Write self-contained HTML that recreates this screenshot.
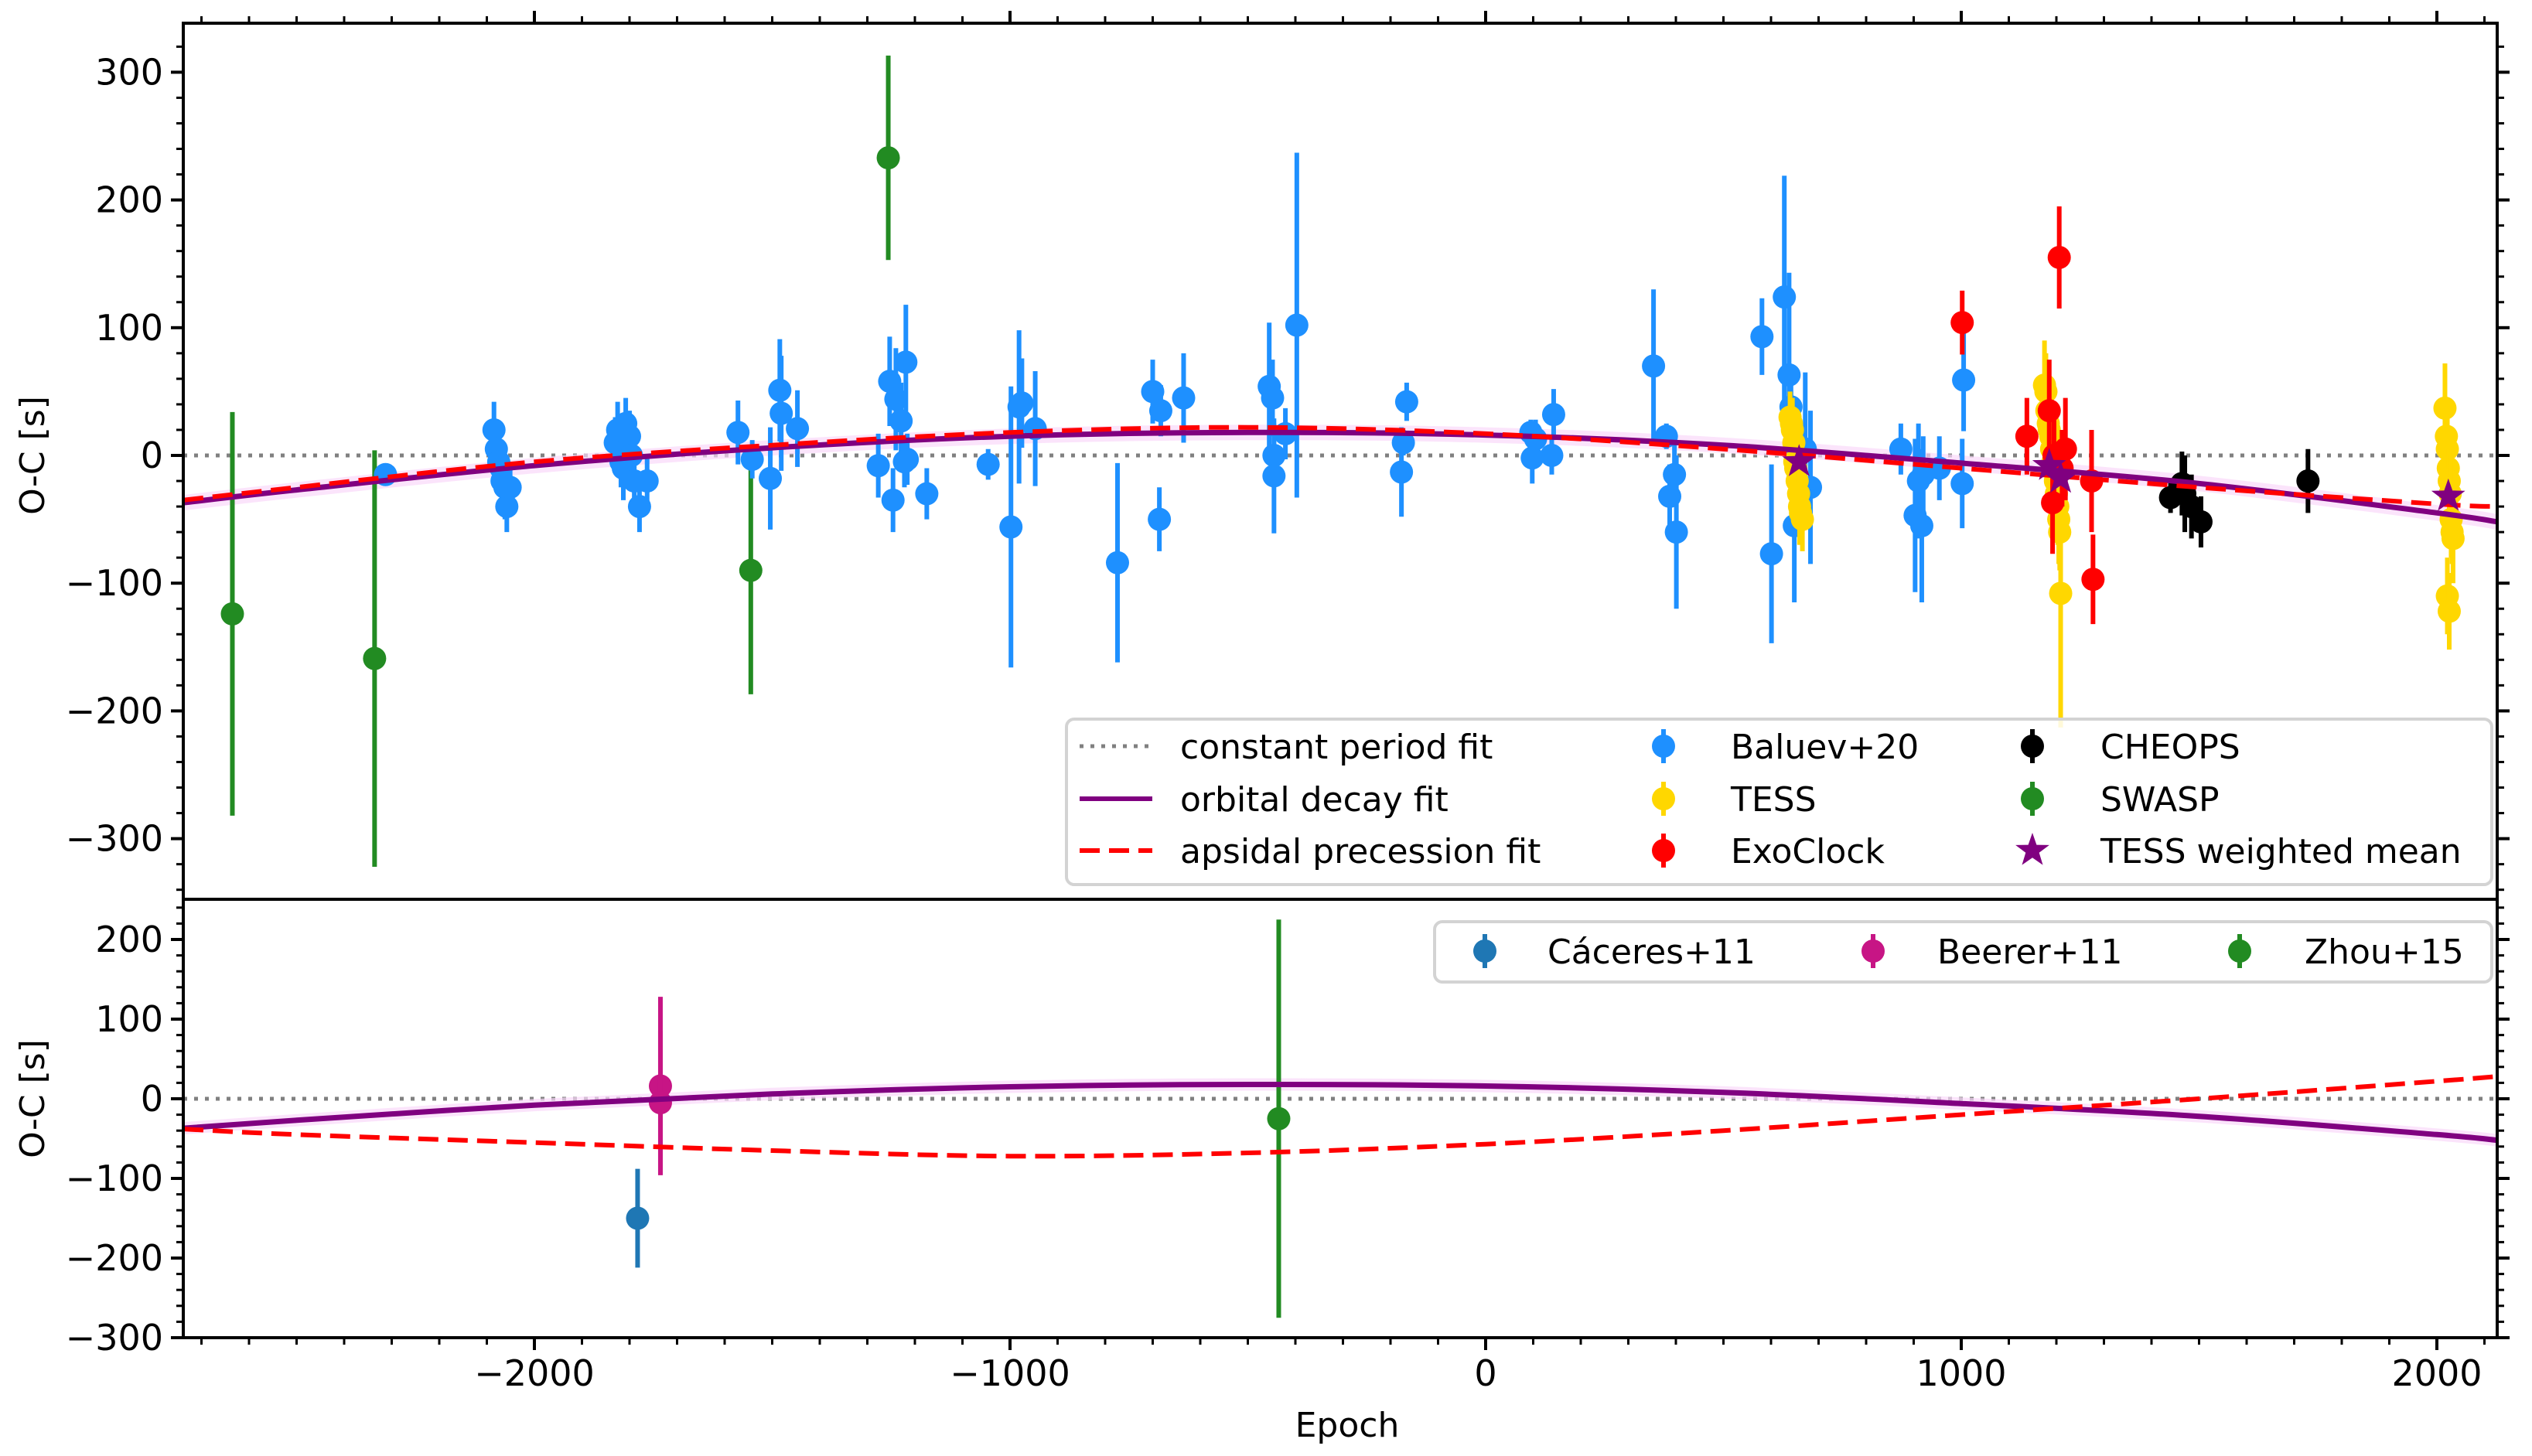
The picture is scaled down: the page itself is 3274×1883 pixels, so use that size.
<!DOCTYPE html>
<html><head><meta charset="utf-8"><style>
body{margin:0;background:#fff}
svg text{font-family:"DejaVu Sans","Liberation Sans",sans-serif;fill:#000}
</style></head><body>
<svg id="chart" width="3274" height="1878" viewBox="0 0 3274 1878" xmlns="http://www.w3.org/2000/svg">
<defs>
<clipPath id="clipTop"><rect x="237" y="30" width="2992" height="1133"/></clipPath>
<clipPath id="clipBot"><rect x="237" y="1163" width="2992" height="567"/></clipPath>
</defs>
<g id="topPanel"></g>
<g id="botPanel"></g>
<g id="axesGroup"></g>
<g id="legendGroup"></g>
</svg>
<script>
// ---------- data ----------
const baluevEpoch=[-2313,-2085,-2080,-2075,-2070,-2068,-2062,-2058,-2051,-1830,-1825,-1818,-1813,-1808,-1800,-1796,-1790,-1779,-1763,-1572,-1542,-1504,-1484,-1481,-1447,-1277,-1253,-1240,-1229,-1246,-1219,-1216,-1222,-1175,-1046,-998,-981,-975,-947,-774,-700,-683,-686,-635,-455,-448,-445,-445,-421,-397,-177,-166,-173,95,105,98,143,139,353,380,387,397,401,581,601,628,638,642,649,655,672,683,873,903,910,917,920,954,1005,1002];
const baluevOC=[-15,20,5,-5,-10,-20,-25,-40,-25,10,20,-5,-10,25,15,0,-20,-40,-20,18,-3,-18,51,33,21,-8,58,44,27,-35,73,-3,-5,-30,-7,-56,38,41,21,-84,50,35,-50,45,54,45,0,-16,17,102,-13,42,10,18,13,-2,32,0,70,15,-32,-15,-60,93,-77,124,63,38,-55,10,5,-25,5,-47,-20,-55,-15,-10,59,-22];
const baluevErr=[5,22,20,25,20,25,25,20,20,20,22,20,25,20,20,25,20,20,20,25,15,40,40,45,30,25,35,40,30,25,45,20,20,20,12,110,60,35,45,78,25,20,25,35,50,30,25,45,20,135,35,15,10,10,15,20,20,15,60,10,25,25,60,30,70,95,80,25,60,25,60,60,20,60,45,60,30,25,40,35];
const tessEpoch=[640,643,645,648,650,652,655,658,660,662,666,1175,1178,1180,1183,1185,1188,1190,1193,1195,1198,1200,1203,1205,1207,1209,2017,2020,2022,2024,2026,2028,2030,2032,2034,2022,2026];
const tessOC=[30,25,20,10,-5,-10,-20,-30,-40,-45,-50,55,50,35,25,20,15,5,-5,-10,-20,-30,-40,-50,-60,-108,37,15,5,-10,-20,-30,-50,-60,-65,-110,-122];
const tessErr=[20,20,25,20,25,20,25,20,30,25,25,35,30,25,25,30,25,25,30,25,30,30,30,35,30,105,35,25,25,30,25,30,30,25,35,30,30];
const exoEpoch=[1002,1138,1185,1192,1206,1219,1274,1277,1195,1212];
const exoOC=[104,15,35,-37,155,5,-20,-97,0,-10];
const exoErr=[25,30,40,40,40,40,40,35,30,30];
const cheopsEpoch=[1440,1464,1470,1484,1504,1729];
const cheopsOC=[-33,-22,-30,-40,-52,-20];
const cheopsErr=[12,25,30,25,20,25];
const swaspEpoch=[-2635,-2336,-1545,-1256];
const swaspOC=[-124,-159,-90,233];
const swaspErr=[158,163,97,80];
const starEpoch=[659,1185,1209,2024];
const starOC=[-5,-8,-18,-32];
const caceresEpoch=[-1783];const caceresOC=[-150];const caceresErr=[62];
const beererEpoch=[-1735,-1735];const beererOC=[16,-5];const beererErr=[112,90];
const zhouEpoch=[-435];const zhouOC=[-25];const zhouErr=[250];
// model curves sampled from the figure
const curveEpoch=[-2738,-2500,-2000,-1500,-1000,-500,0,500,1000,1500,2000,2127];
const decayOC=[-37,-27,-8,6,15,18,16,8,-6,-22,-45,-52];
const apsTopOC=[-35,-25,-5,8,18,22,17,5,-10,-25,-38,-40];
const apsBotOC=[-38,-45,-55,-65,-72,-68,-57,-40,-20,0,22,28];
const xTicks=[-2000,-1000,0,1000,2000];
const yTopTicks=[-300,-200,-100,0,100,200,300];
const yBotTicks=[-300,-200,-100,0,100,200];

// ---------- scales ----------
const L=237,R=3229,T1=30,B1=1163,B2=1730;
const X=e=>1921+0.615*e;
const YT=v=>589-1.652*v;
const YB=v=>1421-1.03*v;
const NS='http://www.w3.org/2000/svg';
function mk(parent,tag,attrs){const el=document.createElementNS(NS,tag);for(const k in attrs)el.setAttribute(k,attrs[k]);parent.appendChild(el);return el;}

const topG=document.getElementById('topPanel'),botG=document.getElementById('botPanel'),axesG=document.getElementById('axesGroup'),legG=document.getElementById('legendGroup');
const gT=mk(topG,'g',{'clip-path':'url(#clipTop)'});
const gB=mk(botG,'g',{'clip-path':'url(#clipBot)'});

function curve(g,ys,Y,attrs,name){
  const P=curveEpoch.map((e,i)=>[X(e),Y(ys[i])]);
  let d='M'+P[0][0].toFixed(1)+','+P[0][1].toFixed(1);
  for(let i=0;i<P.length-1;i++){
    const p0=P[Math.max(0,i-1)],p1=P[i],p2=P[i+1],p3=P[Math.min(P.length-1,i+2)];
    const c1=[p1[0]+(p2[0]-p0[0])/6,p1[1]+(p2[1]-p0[1])/6];
    const c2=[p2[0]-(p3[0]-p1[0])/6,p2[1]-(p3[1]-p1[1])/6];
    d+=' C'+c1[0].toFixed(1)+','+c1[1].toFixed(1)+' '+c2[0].toFixed(1)+','+c2[1].toFixed(1)+' '+p2[0].toFixed(1)+','+p2[1].toFixed(1);
  }
  const p=mk(g,'path',Object.assign({d:d,fill:'none'},attrs));
  
  
}
function zeroLine(g,Y){
  const l=mk(g,'line',{x1:L,x2:R,y1:Y(0),y2:Y(0),stroke:'#808080','stroke-width':5,'stroke-dasharray':'5 9'});
  
  
}
function errs(g,E,V,ER,Y,color,name,r){
  E.forEach((e,i)=>{
    const grp=mk(g,'g',{});
    
    
    mk(grp,'line',{x1:X(e),x2:X(e),y1:Y(V[i]+ER[i]),y2:Y(V[i]-ER[i]),stroke:color,'stroke-width':6});
    mk(grp,'circle',{cx:X(e),cy:Y(V[i]),r:r||15,fill:color});
  });
}
function starPath(cx,cy,ro){const ri=ro*0.4;let d='';for(let k=0;k<10;k++){const rr=k%2?ri:ro;const a=-Math.PI/2+k*Math.PI/5;d+=(k?'L':'M')+(cx+rr*Math.cos(a)).toFixed(1)+','+(cy+rr*Math.sin(a)).toFixed(1);}return d+'Z';}

// top panel
zeroLine(gT,YT);
curve(gT,decayOC,YT,{stroke:'#f9d8f9','stroke-width':20,'stroke-opacity':0.7},'decay-uncertainty-band');
errs(gT,swaspEpoch,swaspOC,swaspErr,YT,'#228b22','swasp');
errs(gT,baluevEpoch,baluevOC,baluevErr,YT,'#1e90ff','baluev');
errs(gT,tessEpoch,tessOC,tessErr,YT,'#ffd700','tess');
errs(gT,exoEpoch,exoOC,exoErr,YT,'#ff0000','exoclock');
errs(gT,cheopsEpoch,cheopsOC,cheopsErr,YT,'#000000','cheops');
curve(gT,decayOC,YT,{stroke:'#800080','stroke-width':7},'orbital-decay-fit');
curve(gT,apsTopOC,YT,{stroke:'#ff0000','stroke-width':6,'stroke-dasharray':'26 12'},'apsidal-precession-fit');
starEpoch.forEach((e,i)=>{
  const s=mk(gT,'path',{d:starPath(X(e),YT(starOC[i]),23),fill:'#800080'});
  
  
});

// bottom panel
zeroLine(gB,YB);
curve(gB,decayOC,YB,{stroke:'#f9d8f9','stroke-width':16,'stroke-opacity':0.7},'decay-uncertainty-band');
errs(gB,caceresEpoch,caceresOC,caceresErr,YB,'#1f77b4','caceres');
errs(gB,beererEpoch,beererOC,beererErr,YB,'#c71585','beerer');
errs(gB,zhouEpoch,zhouOC,zhouErr,YB,'#228b22','zhou');
curve(gB,decayOC,YB,{stroke:'#800080','stroke-width':7},'orbital-decay-fit');
curve(gB,apsBotOC,YB,{stroke:'#ff0000','stroke-width':6,'stroke-dasharray':'26 12'},'apsidal-precession-fit');

// axes frames
mk(axesG,'rect',{x:L,y:T1,width:R-L,height:B2-T1,fill:'none',stroke:'#000','stroke-width':4});
mk(axesG,'line',{x1:L,x2:R,y1:B1,y2:B1,stroke:'#000','stroke-width':4});
// x ticks
for(let e=-2700;e<=2100;e+=100){
  const x=X(e);const major=e%1000===0;const len=major?16:9;
  mk(axesG,'line',{x1:x,x2:x,y1:B2,y2:B2+len,stroke:'#000','stroke-width':major?4:3});
  mk(axesG,'line',{x1:x,x2:x,y1:T1,y2:T1-len,stroke:'#000','stroke-width':major?4:3});
}
xTicks.forEach(e=>{
  const t=mk(axesG,'text',{x:X(e),y:B2+62,'font-size':46,'text-anchor':'middle'});
  t.textContent=(e<0?'\u2212':'')+Math.abs(e);
  
  
});
// y ticks
for(let v=-340;v<=320;v+=20){const y=YT(v);if(y<T1||y>B1)continue;const major=v%100===0;const len=major?16:9;
  mk(axesG,'line',{x1:L,x2:L-len,y1:y,y2:y,stroke:'#000','stroke-width':major?4:3});
  mk(axesG,'line',{x1:R,x2:R+len,y1:y,y2:y,stroke:'#000','stroke-width':major?4:3});}
for(let v=-300;v<=240;v+=20){const y=YB(v);if(y<B1||y>B2)continue;const major=v%100===0;const len=major?16:9;
  mk(axesG,'line',{x1:L,x2:L-len,y1:y,y2:y,stroke:'#000','stroke-width':major?4:3});
  mk(axesG,'line',{x1:R,x2:R+len,y1:y,y2:y,stroke:'#000','stroke-width':major?4:3});}
yTopTicks.forEach(v=>{const t=mk(axesG,'text',{x:L-26,y:YT(v)+16,'font-size':46,'text-anchor':'end'});t.textContent=(v<0?'\u2212':'')+Math.abs(v);
  
  });
yBotTicks.forEach(v=>{const t=mk(axesG,'text',{x:L-26,y:YB(v)+16,'font-size':46,'text-anchor':'end'});t.textContent=(v<0?'\u2212':'')+Math.abs(v);
  
  });
// axis titles
let tt=mk(axesG,'text',{x:1742,y:1858,'font-size':44,'text-anchor':'middle'});tt.textContent='Epoch';

tt=mk(axesG,'text',{x:0,y:0,'font-size':44,'text-anchor':'middle',transform:'translate(57,589) rotate(-90)'});tt.textContent='O-C [s]';

tt=mk(axesG,'text',{x:0,y:0,'font-size':44,'text-anchor':'middle',transform:'translate(57,1421) rotate(-90)'});tt.textContent='O-C [s]';


// legends
function box(x,y,w,h,name){const r=mk(legG,'rect',{x:x,y:y,width:w,height:h,rx:10,fill:'#fff','fill-opacity':0.85,stroke:'#d3d3d3','stroke-width':4});
  }
function ltext(x,y,s){const e=mk(legG,'text',{x:x,y:y+16,'font-size':44});e.textContent=s;
  }
function lmark(x,y,c){mk(legG,'line',{x1:x,x2:x,y1:y-22,y2:y+22,stroke:c,'stroke-width':6});mk(legG,'circle',{cx:x,cy:y,r:15,fill:c});}
box(1379,930,1843,214,'top-legend');
const rows=[965,1033,1100];
mk(legG,'line',{x1:1396,x2:1490,y1:rows[0],y2:rows[0],stroke:'#808080','stroke-width':5,'stroke-dasharray':'5 9'});
mk(legG,'line',{x1:1396,x2:1490,y1:rows[1],y2:rows[1],stroke:'#800080','stroke-width':6});
mk(legG,'line',{x1:1396,x2:1490,y1:rows[2],y2:rows[2],stroke:'#ff0000','stroke-width':6,'stroke-dasharray':'26 12'});
ltext(1526,rows[0],'constant period fit');ltext(1526,rows[1],'orbital decay fit');ltext(1526,rows[2],'apsidal precession fit');
lmark(2151,rows[0],'#1e90ff');lmark(2151,rows[1],'#ffd700');lmark(2151,rows[2],'#ff0000');
ltext(2238,rows[0],'Baluev+20');ltext(2238,rows[1],'TESS');ltext(2238,rows[2],'ExoClock');
lmark(2628,rows[0],'#000');lmark(2628,rows[1],'#228b22');
mk(legG,'path',{d:starPath(2628,rows[2],23),fill:'#800080'});
ltext(2716,rows[0],'CHEOPS');ltext(2716,rows[1],'SWASP');ltext(2716,rows[2],'TESS weighted mean');
box(1855,1192,1367,78,'bottom-legend');
lmark(1920,1230,'#1f77b4');lmark(2422,1230,'#c71585');lmark(2896,1230,'#228b22');
ltext(2001,1230,'Cáceres+11');ltext(2505,1230,'Beerer+11');ltext(2980,1230,'Zhou+15');
</script>
</body></html>
